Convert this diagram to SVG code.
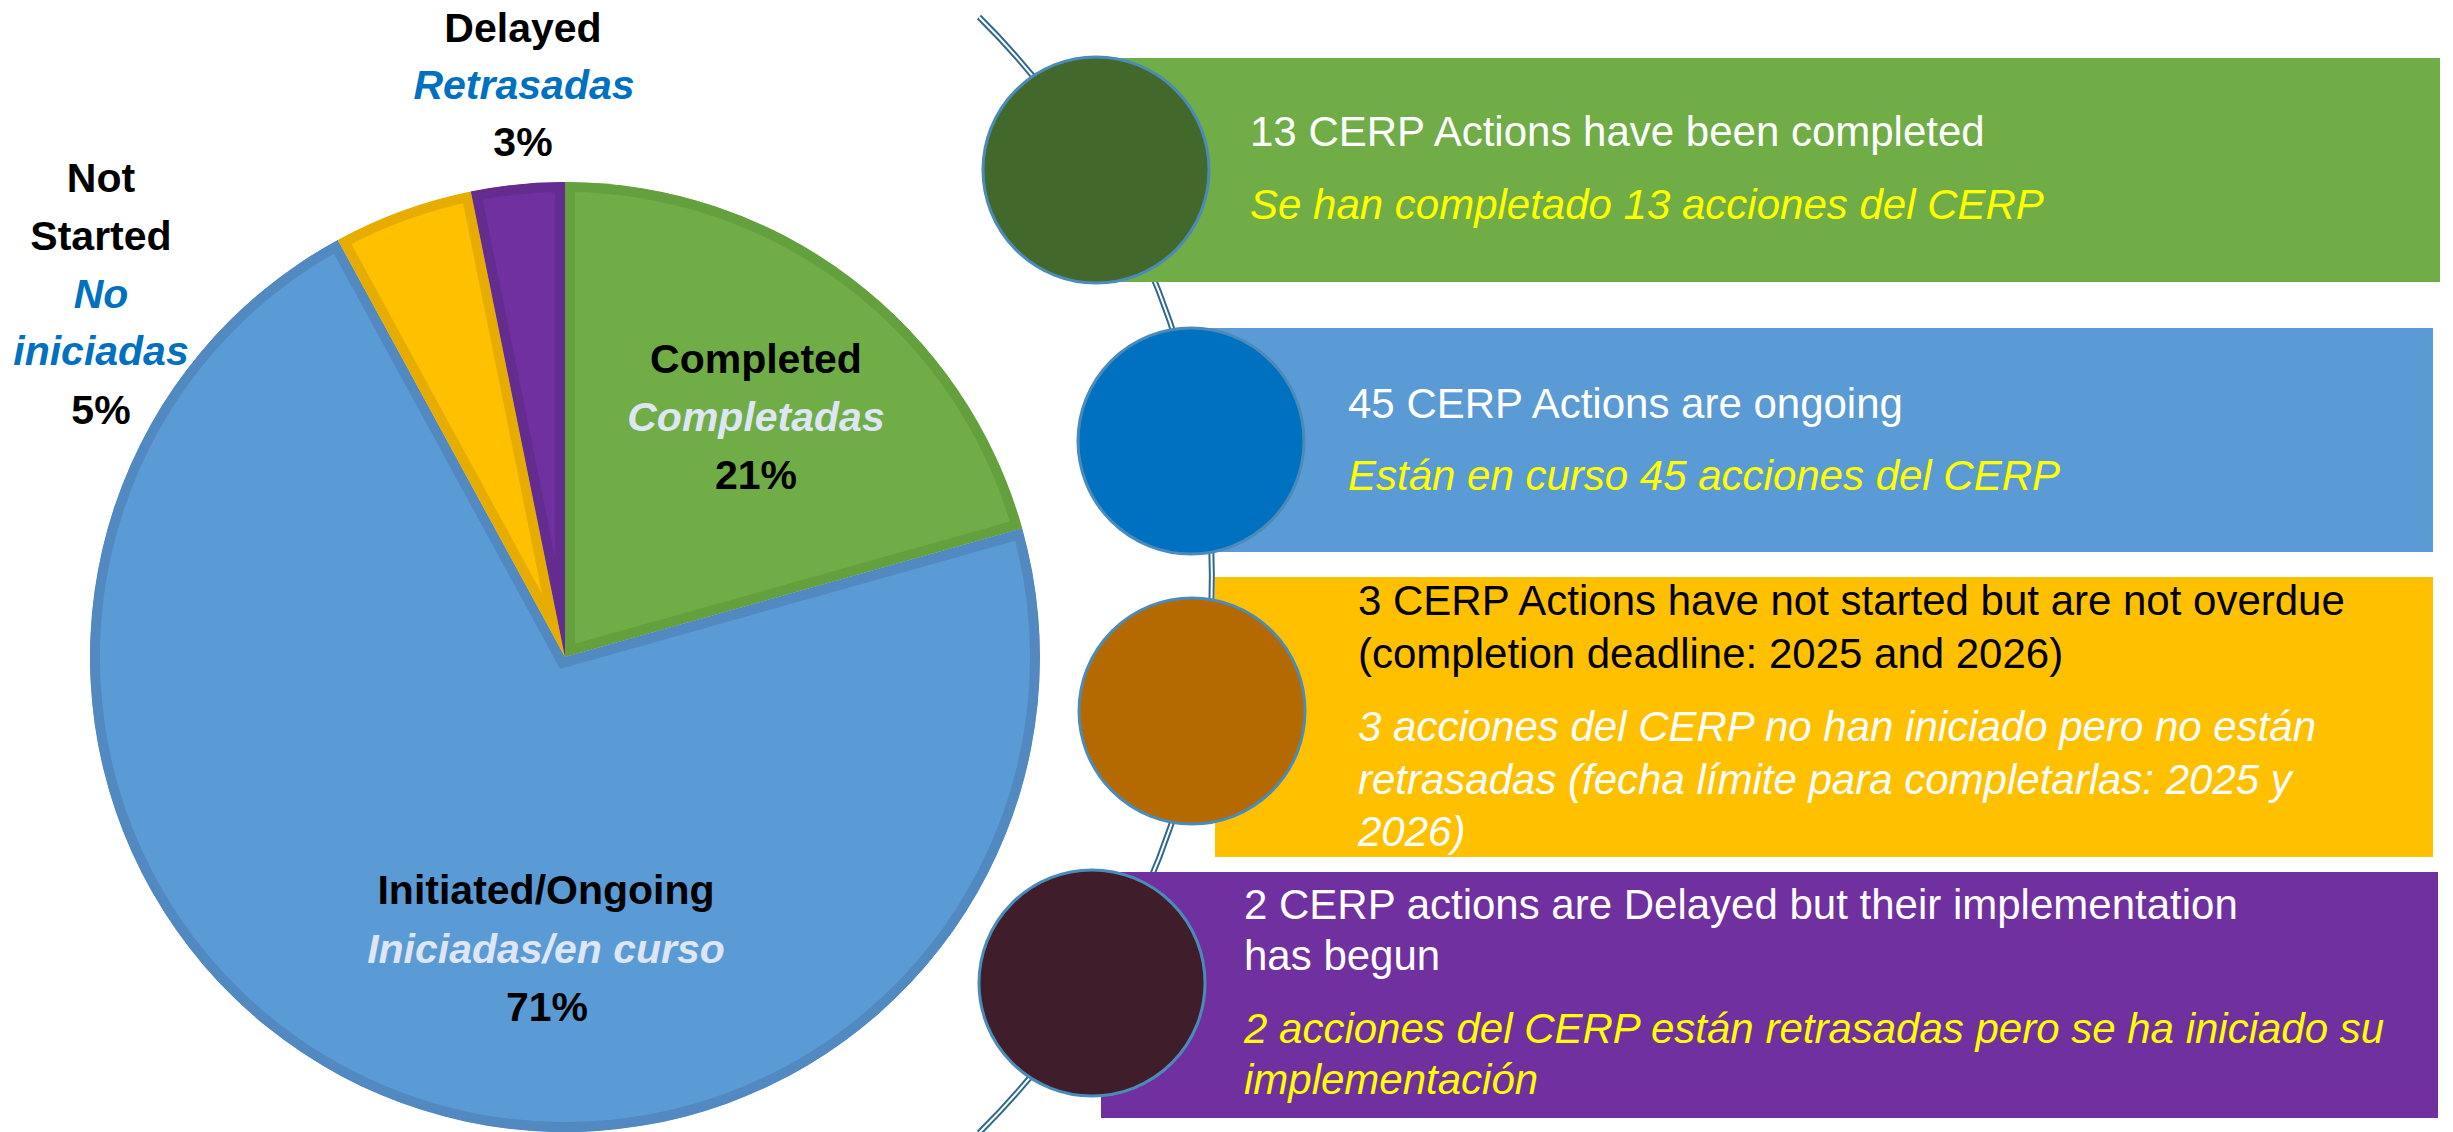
<svg xmlns="http://www.w3.org/2000/svg" xmlns:xlink="http://www.w3.org/1999/xlink" width="2453" height="1132" viewBox="0 0 2453 1132">
<style>
  text { font-family: "Liberation Sans", Arial, sans-serif; }
  .pl { font-size: 41px; font-weight: bold; text-anchor: middle; fill: #000; }
  .pli { font-size: 41px; font-weight: bold; font-style: italic; text-anchor: middle; }
  .blue-t { fill: #0070C0; }
  .light-t { fill: #DEE5F3; }
  .rt { font-size: 42px; }
  .ri { font-size: 42px; font-style: italic; }
  .w { fill: #FFFFFF; }
  .y { fill: #FFFF00; }
  .k { fill: #000000; }
  .bub { stroke: #4A8BBA; stroke-width: 3; }
  .conn-out { fill: none; stroke: #2F6A8D; stroke-width: 6; }
  .conn-in { fill: none; stroke: #FFFFFF; stroke-width: 2; }
</style>
<defs>
  <path id="sG" d="M565,657 L565,182 A475,475 0 0 1 1022.2,528.4 Z"/>
  <path id="sB" d="M565,657 L1022.2,528.4 A475,475 0 1 1 337.8,239.9 Z"/>
  <path id="sY" d="M565,657 L337.8,239.9 A475,475 0 0 1 470.9,191.4 Z"/>
  <path id="sP" d="M565,657 L470.9,191.4 A475,475 0 0 1 565,182 Z"/>
  <clipPath id="cG"><use xlink:href="#sG"/></clipPath>
  <clipPath id="cB"><use xlink:href="#sB"/></clipPath>
  <clipPath id="cY"><use xlink:href="#sY"/></clipPath>
  <clipPath id="cP"><use xlink:href="#sP"/></clipPath>
</defs>
<rect width="2453" height="1132" fill="#FFFFFF"/>

<g id="connectors">
  <path class="conn-out" d="M979,17 A785,785 0 0 1 979,1133"/>
  <path class="conn-in" d="M979,17 A785,785 0 0 1 979,1133"/>
</g>

<g id="pie">
  <g id="slice-completed">
    <use xlink:href="#sG" fill="#70AD47" stroke="#65A03F" stroke-width="20" clip-path="url(#cG)"/>
  </g>
  <g id="slice-ongoing">
    <use xlink:href="#sB" fill="#5B9BD5" stroke="#5189C0" stroke-width="20" clip-path="url(#cB)"/>
  </g>
  <g id="slice-notstarted">
    <use xlink:href="#sY" fill="#FFC000" stroke="#E6AD00" stroke-width="20" clip-path="url(#cY)"/>
  </g>
  <g id="slice-delayed">
    <use xlink:href="#sP" fill="#7030A0" stroke="#652C90" stroke-width="20" clip-path="url(#cP)"/>
  </g>
</g>

<g id="label-delayed">
  <text class="pl" x="523" y="42">Delayed</text>
  <text class="pli blue-t" x="524" y="99">Retrasadas</text>
  <text class="pl" x="523" y="156">3%</text>
</g>
<g id="label-notstarted">
  <text class="pl" x="101" y="192">Not</text>
  <text class="pl" x="101" y="250">Started</text>
  <text class="pli blue-t" x="101" y="308">No</text>
  <text class="pli blue-t" x="101" y="365">iniciadas</text>
  <text class="pl" x="101" y="424">5%</text>
</g>
<g id="label-completed">
  <text class="pl" x="756" y="373">Completed</text>
  <text class="pli light-t" x="756" y="431">Completadas</text>
  <text class="pl" x="756" y="489">21%</text>
</g>
<g id="label-ongoing">
  <text class="pl" x="546" y="904">Initiated/Ongoing</text>
  <text class="pli light-t" x="546" y="963">Iniciadas/en curso</text>
  <text class="pl" x="547" y="1021">71%</text>
</g>

<g id="row-completed">
  <rect x="1110" y="58" width="1330" height="224" fill="#70AD47"/>
  <circle class="bub" cx="1096" cy="170" r="113" fill="#43682B"/>
  <text class="rt w" x="1250" y="146">13 CERP Actions have been completed</text>
  <text class="ri y" x="1250" y="219">Se han completado 13 acciones del CERP</text>
</g>

<g id="row-ongoing">
  <rect x="1200" y="328" width="1233" height="224" fill="#5B9BD5"/>
  <circle class="bub" cx="1191" cy="441" r="113" fill="#0070C0"/>
  <text class="rt w" x="1348" y="418">45 CERP Actions are ongoing</text>
  <text class="ri y" x="1348" y="490">Están en curso 45 acciones del CERP</text>
</g>

<g id="row-notstarted">
  <rect x="1215" y="577" width="1218" height="280" fill="#FFC000"/>
  <circle class="bub" cx="1192" cy="711" r="113" fill="#B46A00"/>
  <text class="rt k" x="1358" y="615">3 CERP Actions have not started but are not overdue</text>
  <text class="rt k" x="1358" y="668">(completion deadline: 2025 and 2026)</text>
  <text class="ri w" x="1358" y="741">3 acciones del CERP no han iniciado pero no están</text>
  <text class="ri w" x="1358" y="794">retrasadas (fecha límite para completarlas: 2025 y</text>
  <text class="ri w" x="1358" y="846">2026)</text>
</g>

<g id="row-delayed">
  <rect x="1101" y="872" width="1337" height="246" fill="#7030A0"/>
  <circle class="bub" cx="1092" cy="983" r="113" fill="#3F1D2B"/>
  <text class="rt w" x="1244" y="919">2 CERP actions are Delayed but their implementation</text>
  <text class="rt w" x="1244" y="970">has begun</text>
  <text class="ri y" x="1244" y="1043">2 acciones del CERP están retrasadas pero se ha iniciado su</text>
  <text class="ri y" x="1244" y="1094">implementación</text>
</g>
</svg>
